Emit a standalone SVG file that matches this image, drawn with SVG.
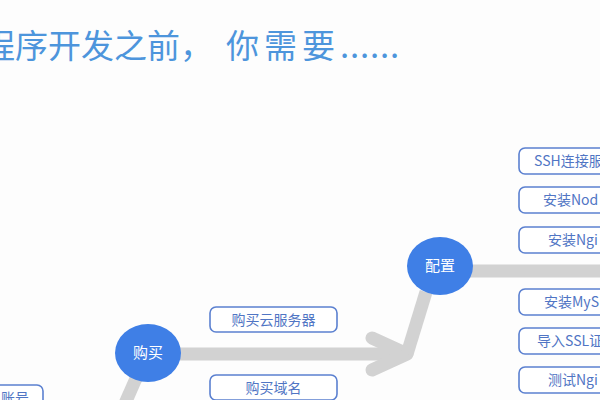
<svg xmlns="http://www.w3.org/2000/svg" width="600" height="400" viewBox="0 0 600 400">
<style>
  text { font-family: "Noto Sans CJK SC", "Noto Sans", sans-serif; }
  .title { font-size: 33px; fill: #4d95dc; }
  .box rect { fill: #ffffff; stroke: #5b80d0; stroke-width: 1.6; }
  .box text { font-size: 14px; fill: #5075c4; }
  .hub ellipse { fill: #3f7fe6; }
  .hub text { font-size: 15px; fill: #ffffff; text-anchor: middle; }
  .band { fill: none; stroke: #d2d2d2; stroke-width: 13; stroke-linejoin: round; }
</style>
<rect width="600" height="400" fill="#fdfdfd"/>
<text class="title" x="-18 15 48 81 114 147 180 226 264 302 340 350 360 370 380 390" y="58">程序开发之前，你需要......</text>

<g id="connectors">
  <path class="band" d="M138,374 L123,408" stroke-linecap="butt"/>
  <path class="band" d="M180,354 L407,354" stroke-linecap="butt"/>
  <path class="band" d="M372,338 L407,354 L372,370" stroke-linecap="round"/>
  <path class="band" d="M407,354 L426,292" stroke-linecap="butt"/>
  <path class="band" d="M470,271 L605,271" stroke-linecap="butt"/>
</g>

<g id="node-account" class="box">
  <rect x="-84" y="385" width="127" height="26" rx="6"/>
  <text x="1" y="403">账号</text>
</g>

<g id="node-buy" class="hub">
  <ellipse cx="148" cy="353" rx="33" ry="29"/>
  <text x="148" y="358">购买</text>
</g>

<g id="node-buy-server" class="box">
  <rect x="210" y="307" width="127" height="25" rx="6"/>
  <text x="273.5" y="324.5" text-anchor="middle">购买云服务器</text>
</g>
<g id="node-buy-domain" class="box">
  <rect x="210" y="375" width="127" height="25" rx="6"/>
  <text x="273.5" y="392.5" text-anchor="middle">购买域名</text>
</g>

<g id="node-config" class="hub">
  <ellipse cx="440" cy="266" rx="33" ry="29"/>
  <text x="440" y="271">配置</text>
</g>

<g id="node-ssh" class="box">
  <rect x="519" y="148" width="130" height="26" rx="6"/>
  <text x="534" y="166">SSH连接服</text>
</g>
<g id="node-node" class="box">
  <rect x="519" y="187" width="130" height="26" rx="6"/>
  <text x="543" y="205">安装Nod</text>
</g>
<g id="node-nginx" class="box">
  <rect x="519" y="227" width="130" height="26" rx="6"/>
  <text x="548" y="245">安装Ngi</text>
</g>
<g id="node-mysql" class="box">
  <rect x="519" y="289" width="130" height="26" rx="6"/>
  <text x="544" y="307">安装MyS</text>
</g>
<g id="node-ssl" class="box">
  <rect x="519" y="328" width="130" height="26" rx="6"/>
  <text x="537" y="346">导入SSL证</text>
</g>
<g id="node-test" class="box">
  <rect x="519" y="367" width="130" height="26" rx="6"/>
  <text x="548" y="385">测试Ngi</text>
</g>
</svg>
